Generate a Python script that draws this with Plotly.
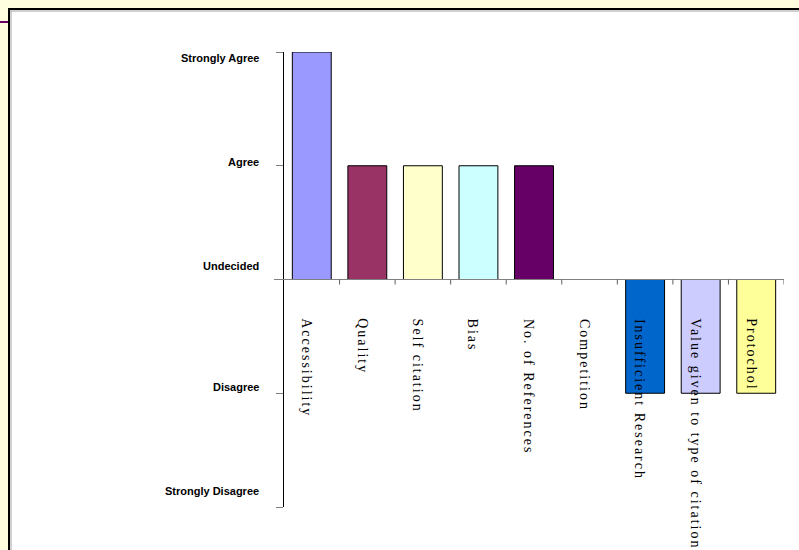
import plotly.graph_objects as go

categories = ["Accessibility", "Quality", "Self citation", "Bias", "No. of References",
              "Competition", "Insufficient Research", "Value given to type of citation", "Protochol"]
values = [2, 1, 1, 1, 1, 0, -1, -1, -1]
colors = ["#9999FF", "#993366", "#FFFFCC", "#CCFFFF", "#660066",
          "#FF8080", "#0066CC", "#CCCCFF", "#FFFF99"]
level_values = [2, 1, 0, -1, -2]
level_labels = ["Strongly Agree", "Agree", "Undecided", "Disagree", "Strongly Disagree"]
level_label_shift = [-6, 4, 14, 6, 16]

W, H = 799, 550
L, R, T, B = 284, 15, 52, 43
pw, ph = W - L - R, H - T - B

def px_x(p):
    return (p - L) / pw

def px_y(p):
    return (H - B - p) / ph

fig = go.Figure()
fig.add_trace(go.Bar(
    x=categories, y=values,
    marker=dict(color=colors, line=dict(color="black", width=1)),
    width=0.7, showlegend=False, hoverinfo="skip",
))

shapes = [
    dict(type="rect", xref="paper", yref="paper", x0=px_x(9), x1=px_x(830), y0=px_y(9), y1=px_y(580),
         fillcolor="white", line=dict(color="black", width=2), layer="below"),
    dict(type="line", xref="paper", yref="paper", x0=px_x(10.5), x1=px_x(830), y0=px_y(11), y1=px_y(11),
         line=dict(color="#A0A0A0", width=1), layer="below"),
    dict(type="line", xref="paper", yref="paper", x0=px_x(11), x1=px_x(11), y0=px_y(10.5), y1=px_y(580),
         line=dict(color="#A0A0A0", width=1), layer="below"),
    dict(type="line", xref="paper", yref="paper", x0=px_x(0), x1=px_x(8), y0=px_y(22), y1=px_y(22),
         line=dict(color="#660066", width=2), layer="below"),
    # zero line (category axis)
    dict(type="line", xref="x domain", yref="y", x0=-10 / pw, x1=1, y0=0, y1=0,
         line=dict(color="#808080", width=1), layer="above"),
]
# category-boundary tick marks on the zero line
for i in range(len(categories)):
    shapes.append(dict(type="line", xref="x", yref="y", ysizemode="pixel", yanchor=0,
                       x0=i + 0.5, x1=i + 0.5, y0=0, y1=-5,
                       line=dict(color="#606060", width=1)))

annotations = []
for v, lab, s in zip(level_values, level_labels, level_label_shift):
    annotations.append(dict(
        xref="paper", yref="y", x=0, y=v, xanchor="right", yanchor="middle",
        xshift=-23, yshift=s, showarrow=False, text="<b>" + lab + "</b>",
        font=dict(family="Liberation Sans, Arial", size=11, color="black")))
for c in categories:
    annotations.append(dict(
        xref="x", yref="y", x=c, y=0, xanchor="center", yanchor="top",
        xshift=-5, yshift=-37, showarrow=False, textangle=90,
        text='<span style="letter-spacing:2px">' + c + '</span>',
        font=dict(family="Liberation Serif, Times New Roman", size=14, color="black")))

fig.update_layout(
    width=W, height=H,
    margin=dict(l=L, r=R, t=T, b=B),
    paper_bgcolor="#FFFFE0",
    plot_bgcolor="rgba(0,0,0,0)",
    bargap=0.3,
    shapes=shapes,
    annotations=annotations,
    xaxis=dict(visible=False, range=[-0.5, len(categories) - 0.5], fixedrange=True),
    yaxis=dict(range=[-2, 2], tickvals=level_values, showticklabels=False,
               showline=True, linecolor="black", linewidth=1,
               ticks="outside", ticklen=7, tickcolor="#808080",
               showgrid=False, zeroline=False, fixedrange=True),
)

fig.write_html("out.html")
